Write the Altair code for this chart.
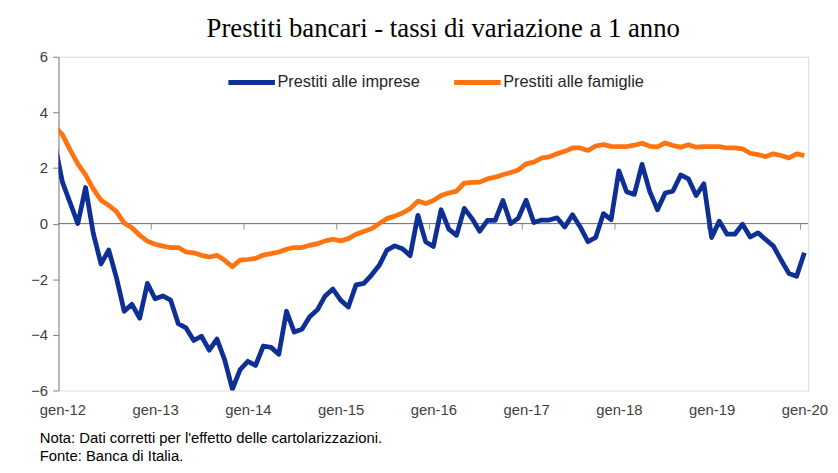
import json
import altair as alt
import pandas as pd

# month index: 0 = gen-12 ... 96 = gen-20 (first value, -1, is clipped at the axis)
months = list(range(-1, 97))

imprese = [
    2.9,
    1.5, 0.75, 0.0, 1.3, -0.35, -1.45, -0.95, -1.95, -3.15, -2.9,
    -3.4, -2.15, -2.7, -2.6, -2.75, -3.6, -3.75, -4.2, -4.05, -4.55,
    -4.15, -4.9, -5.95, -5.25, -4.95, -5.1, -4.4, -4.45, -4.7, -3.15,
    -3.9, -3.8, -3.35, -3.1, -2.6, -2.35, -2.75, -3.0, -2.2, -2.15,
    -1.85, -1.5, -0.95, -0.8, -0.9, -1.15, 0.3, -0.65, -0.82, 0.5,
    -0.2, -0.42, 0.55, 0.18, -0.27, 0.12, 0.12, 0.83, 0.0, 0.2,
    0.84, 0.04, 0.13, 0.13, 0.21, -0.12, 0.32, -0.12, -0.65, -0.5,
    0.36, 0.14, 1.9, 1.15, 1.05, 2.13, 1.15, 0.5, 1.1, 1.17,
    1.75, 1.61, 1.01, 1.43, -0.5, 0.09, -0.38, -0.38, -0.02, -0.48,
    -0.33, -0.57, -0.81, -1.31, -1.79, -1.89, -1.05,
]

famiglie = [
    3.5,
    3.2, 2.65, 2.15, 1.75, 1.25, 0.84, 0.66, 0.43, 0.02, -0.15,
    -0.42, -0.63, -0.74, -0.81, -0.86, -0.86, -1.02, -1.05, -1.14, -1.2,
    -1.14, -1.32, -1.55, -1.31, -1.29, -1.25, -1.13, -1.08, -1.02, -0.92,
    -0.86, -0.86, -0.78, -0.72, -0.62, -0.56, -0.62, -0.54, -0.38, -0.28,
    -0.18, 0.0, 0.18, 0.27, 0.38, 0.54, 0.81, 0.72, 0.83, 1.01,
    1.1, 1.17, 1.46, 1.48, 1.49, 1.61, 1.67, 1.76, 1.84, 1.93,
    2.15, 2.21, 2.36, 2.4, 2.51, 2.6, 2.72, 2.72, 2.63, 2.79,
    2.84, 2.78, 2.77, 2.77, 2.82, 2.89, 2.78, 2.76, 2.9, 2.81,
    2.75, 2.84, 2.75, 2.77, 2.77, 2.77, 2.72, 2.72, 2.69, 2.53,
    2.48, 2.41, 2.51, 2.45, 2.36, 2.51, 2.45,
]

series_names = ["Prestiti alle imprese", "Prestiti alle famiglie"]
series_colors = ["#0E2F96", "#FF7410"]

tick_labels = ["gen-12", "gen-13", "gen-14", "gen-15", "gen-16",
               "gen-17", "gen-18", "gen-19", "gen-20"]
label_months = [0, 12, 24, 36, 48, 60, 72, 84, 96]
tick_months = [11.5, 23.5, 35.5, 47.5, 59.5, 71.5, 83.5, 95.5]
y_ticks = [-6, -4, -2, 0, 2, 4, 6]

title_text = "Prestiti bancari - tassi di variazione a 1 anno"
note_lines = ["Nota: Dati corretti per l'effetto delle cartolarizzazioni.",
              "Fonte: Banca di Italia."]

df = pd.concat([
    pd.DataFrame({"m": months, "v": imprese, "s": series_names[0]}),
    pd.DataFrame({"m": months, "v": famiglie, "s": series_names[1]}),
])

W, H = 757, 337
SANS = "Liberation Sans, Arial, sans-serif"
LABEL_EXPR = json.dumps(tick_labels) + "[round(datum.value / 12)]"

xscale = alt.Scale(domain=[-0.5, 96.5], nice=False, zero=False)
yscale = alt.Scale(domain=[-6, 6], nice=False)

lines = alt.Chart(df).mark_line(strokeWidth=4.8, clip=True, strokeJoin="round").encode(
    x=alt.X("m:Q", scale=xscale,
            axis=alt.Axis(values=label_months, labelExpr=LABEL_EXPR, title=None,
                          domain=False, ticks=False, grid=False, labelPadding=12,
                          labelFontSize=15, labelColor="#404040", labelFont=SANS)),
    y=alt.Y("v:Q", scale=yscale,
            axis=alt.Axis(values=y_ticks, title=None, grid=False,
                          domainColor="#7F7F7F", tickColor="#7F7F7F", tickSize=6,
                          labelPadding=5, labelFontSize=15, labelColor="#404040",
                          labelFont=SANS)),
    color=alt.Color("s:N", sort=series_names,
                    scale=alt.Scale(domain=series_names, range=series_colors),
                    legend=alt.Legend(title=None, orient="none", direction="horizontal",
                                      legendX=169, legendY=0, symbolType="stroke",
                                      symbolSize=2209, symbolStrokeWidth=5,
                                      labelFontSize=16.5, labelFont=SANS,
                                      labelColor="#262626", labelOffset=0,
                                      columnPadding=24)),
    order="m:Q",
)

zero = alt.Chart(pd.DataFrame({"y": [0]})).mark_rule(color="#666666", strokeWidth=1).encode(
    y=alt.Y("y:Q", scale=yscale)
)

ticks = alt.Chart(pd.DataFrame({"m": tick_months, "y": [0] * len(tick_months)})).mark_tick(
    orient="vertical", size=6, thickness=1, yOffset=3, color="#666666"
).encode(x=alt.X("m:Q", scale=xscale), y=alt.Y("y:Q", scale=yscale))

title = alt.Chart(pd.DataFrame({"t": [title_text]})).mark_text(
    font="Liberation Serif, Times New Roman, serif", fontSize=27, color="#000000",
    align="center", baseline="alphabetic"
).encode(text="t:N", x=alt.value(W / 2 + 10), y=alt.value(-20))

notes = alt.Chart(pd.DataFrame({"t": note_lines, "yy": [390, 408]})).mark_text(
    font=SANS, fontSize=15, color="#000000", align="left", baseline="alphabetic"
).encode(text="t:N", x=alt.value(-19), y=alt.Y("yy:Q", scale=None))

chart = alt.layer(zero, ticks, lines, title, notes).properties(
    width=W, height=H,
    autosize=alt.AutoSizeParams(type="none"),
    padding={"left": 51, "top": 47, "right": 22, "bottom": 73},
).configure_view(stroke=None).configure(background="white")

chart.save("out.html", embed_options={"renderer": "svg", "actions": False})
